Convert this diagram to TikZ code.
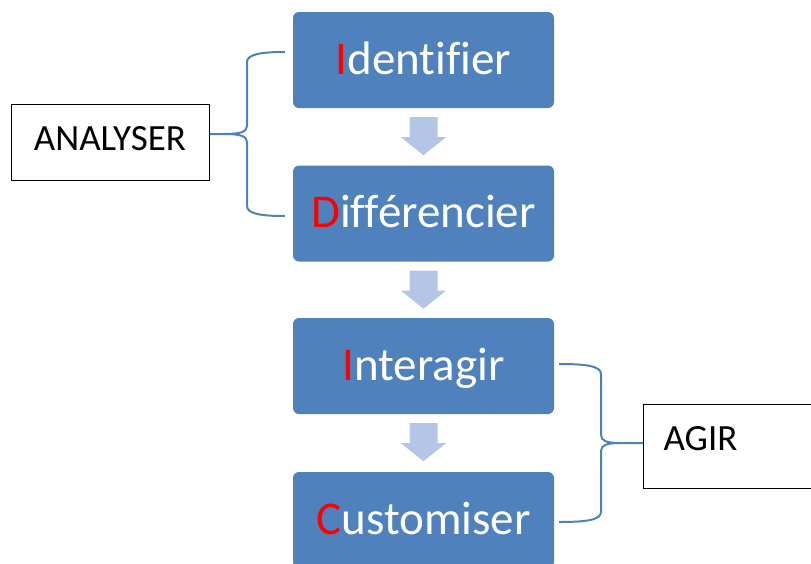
\documentclass[tikz,border=0pt]{standalone}
\usepackage{fontspec}
\setmainfont{Carlito}[Ligatures=NoCommon]
\usetikzlibrary{calc}
\definecolor{stepblue}{HTML}{4F81BD}
\definecolor{arrowblue}{HTML}{B4C6E6}
\definecolor{initred}{HTML}{FF0000}
\tikzset{
  stepbox/.style={fill=stepblue, rounded corners=6pt, minimum width=261pt,
    minimum height=96pt, inner sep=0pt, text=white,
    font=\fontsize{47}{52}\selectfont, text height=28pt, text depth=0pt},
  labelbox/.style={draw=black, line width=1pt, inner sep=0pt,
    font=\fontsize{37}{42}\selectfont},
  brace/.style={draw=stepblue, line width=2pt},
  blockarrow/.style={fill=arrowblue},
}
\newcommand{\initial}[1]{\textcolor{initred}{#1}}
\newcommand{\downarrowblock}[1]{%
  \fill[blockarrow] ($(#1.south)+(-14,9)$) -- ($(#1.south)+(14,9)$)
    -- ($(#1.south)+(14,29)$) -- ($(#1.south)+(22.5,29)$)
    -- ($(#1.south)+(0,47)$) -- ($(#1.south)+(-22.5,29)$)
    -- ($(#1.south)+(-14,29)$) -- cycle;}
\begin{document}
\begin{tikzpicture}[x=1pt, y=-1pt]
\useasboundingbox (0,0) rectangle (811,563);

% the four steps
\node[stepbox] (b1) at (423.5,60)  {\initial{I}dentifier};
\node[stepbox] (b2) at (423.5,213.5) {\initial{D}ifférencier};
\node[stepbox] (b3) at (423.5,366) {\initial{I}nteragir};
\node[stepbox] (b4) at (423.5,520) {\initial{C}ustomiser};

% arrows between the steps
\downarrowblock{b1}
\downarrowblock{b2}
\downarrowblock{b3}

% group labels
\node[labelbox, minimum width=198pt, minimum height=76pt,
      text height=22pt, text depth=6pt] (an) at (110,142) {ANALYSER};
\node[labelbox, anchor=west, minimum height=84pt, text width=150pt,
      align=left, inner xsep=20pt, text height=22pt, text depth=14pt]
      (ag) at (643,446) {AGIR};

% left brace: ANALYSER groups the first two steps
\coordinate (lc) at (an.east |- 0,134);
\coordinate (lt) at ($(b1.west)+(-8,-8)$);
\coordinate (lb) at ($(b2.west)+(-8,2.5)$);
\draw[brace] (lc) -- (224,134) .. controls (240,134) and (247,132) .. (247,126)
  -- (247,62) .. controls (247,54) and (262,52) .. (lt);
\draw[brace] (224,134) .. controls (240,134) and (247,136) .. (247,142)
  -- (247,206) .. controls (247,214) and (262,216) .. (lb);

% right brace: AGIR groups the last two steps
\coordinate (rc) at (ag.west |- 0,443);
\coordinate (rt) at ($(b3.east)+(5,-2)$);
\coordinate (rb) at ($(b4.east)+(5,2)$);
\draw[brace] (rc) -- (620,443) .. controls (607,443) and (601,441) .. (601,435)
  -- (601,374) .. controls (601,366) and (586,364) .. (rt);
\draw[brace] (620,443) .. controls (607,443) and (601,445) .. (601,451)
  -- (601,512) .. controls (601,520) and (586,522) .. (rb);
\end{tikzpicture}
\end{document}
